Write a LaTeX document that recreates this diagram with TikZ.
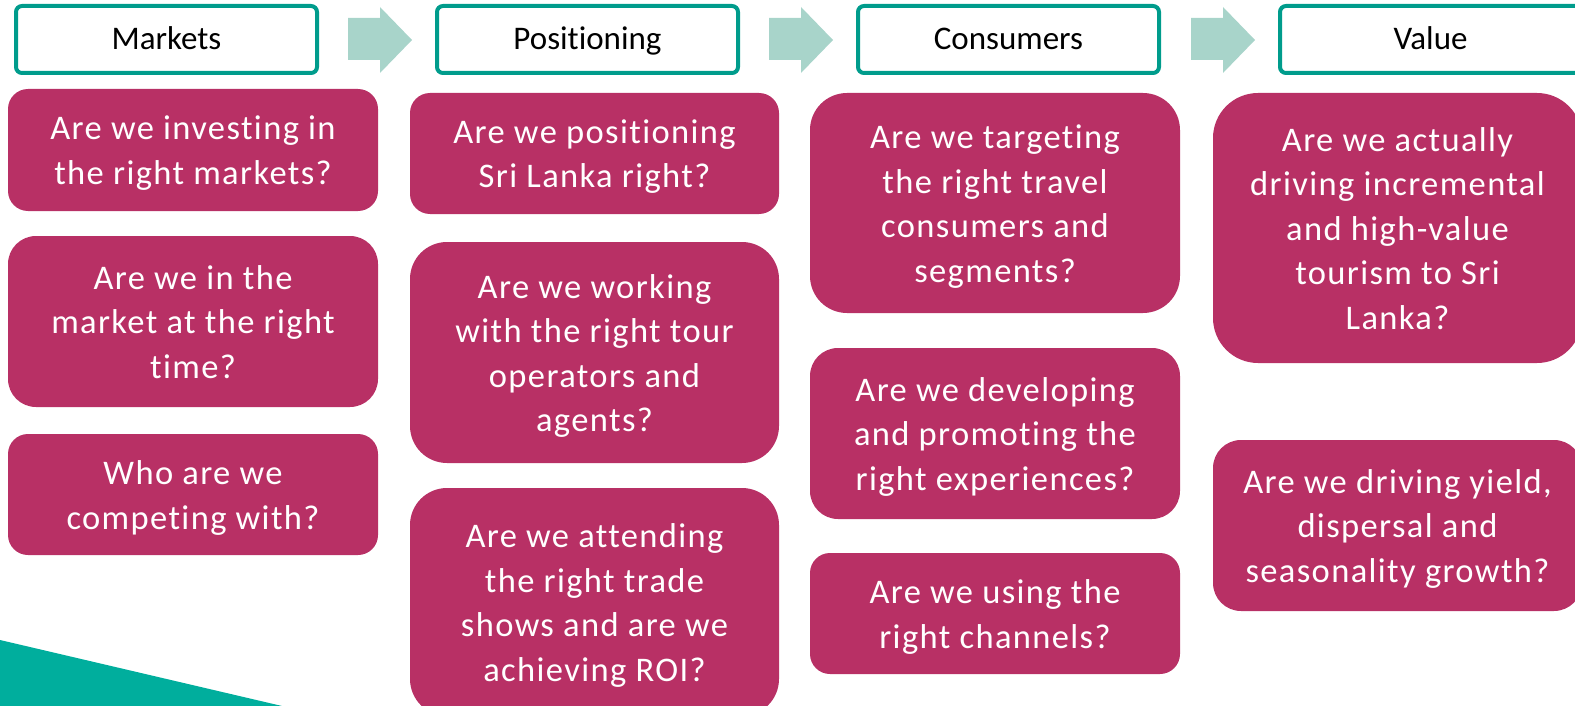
\documentclass[tikz,border=0pt]{standalone}
\usepackage{fontspec}
\setmainfont{Carlito}[Ligatures=NoCommon]
\newfontfamily\qfont{Carlito}[LetterSpace=4,Ligatures=NoCommon]
\usetikzlibrary{calc}
\definecolor{qmag}{HTML}{B83065}
\definecolor{hteal}{HTML}{009C8C}
\definecolor{arrowfill}{HTML}{A8D4CA}
\definecolor{cornerteal}{HTML}{00AE9D}
% fixed first-line height and last-line depth, so every box centres its text alike
\newcommand\qtop{\rule{0pt}{34.5pt}}
\newcommand\qbot{\rule[-10pt]{0pt}{10pt}}
\begin{document}
\begin{tikzpicture}[x=1pt,y=-1pt,
  header/.style={draw=hteal, line width=4pt, rounded corners=6pt, fill=white,
    minimum width=301pt, minimum height=67pt, inner sep=0pt,
    text height=28pt, text depth=7pt,
    font=\fontsize{33}{40}\selectfont},
  qbox/.style={fill=qmag, text=white, align=center, inner sep=0pt,
    font=\qfont\fontsize{34.5}{44.5}\selectfont},
  flow/.style={fill=arrowfill}
]
\useasboundingbox (0,0) rectangle (1575,706);
\clip (0,0) rectangle (1575,706);

% corner wedge
\fill[cornerteal] (0,640) -- (282,706) -- (0,706) -- cycle;

% stage headers
\node[header] (h1) at (166.5,39.5) {Markets};
\node[header] (h2) at (587.5,39.5) {Positioning};
\node[header] (h3) at (1008.5,39.5) {Consumers};
\node[header] (h4) at (1430.5,39.5) {Value};

% block arrows between the headers
\foreach \l in {348,769,1191}{
  \fill[flow] (\l,18) -- (\l+32,18) -- (\l+32,7) -- (\l+64,40)
    -- (\l+32,73) -- (\l+32,60) -- (\l,60) -- cycle;
}

% Markets questions
\node[qbox, rounded corners=20pt, minimum width=370pt, minimum height=122pt] (m1) at (193,150)
  {\qtop Are we investing in\\the right markets?\qbot};
\node[qbox, rounded corners=28pt, minimum width=370pt, minimum height=171pt] (m2) at (193,321.5)
  {\qtop Are we in the\\market at the right\\time?\qbot};
\node[qbox, rounded corners=20pt, minimum width=370pt, minimum height=121pt] (m3) at (193,494.5)
  {\qtop Who are we\\competing with?\qbot};

% Positioning questions
\node[qbox, rounded corners=20pt, minimum width=369pt, minimum height=121pt] (p1) at (594.5,153.5)
  {\qtop Are we positioning\\Sri Lanka right?\qbot};
\node[qbox, rounded corners=37pt, minimum width=369pt, minimum height=221pt] (p2) at (594.5,352.5)
  {\qtop Are we working\\with the right tour\\operators and\\agents?\qbot};
\node[qbox, rounded corners=37pt, minimum width=369pt, minimum height=228pt] (p3) at (594.5,602)
  {\qtop Are we attending\\the right trade\\shows and are we\\achieving ROI?\qbot};

% Consumers questions
\node[qbox, rounded corners=37pt, minimum width=370pt, minimum height=220pt] (c1) at (995,203)
  {\qtop Are we targeting\\the right travel\\consumers and\\segments?\qbot};
\node[qbox, rounded corners=28pt, minimum width=370pt, minimum height=171pt] (c2) at (995,433.5)
  {\qtop Are we developing\\and promoting the\\right experiences?\qbot};
\node[qbox, rounded corners=20pt, minimum width=370pt, minimum height=121pt] (c3) at (995,613.5)
  {\qtop Are we using the\\right channels?\qbot};

% Value questions
\node[qbox, rounded corners=45pt, minimum width=369pt, minimum height=270pt] (v1) at (1397.5,228)
  {\qtop Are we actually\\driving incremental\\and high-value\\tourism to Sri\\Lanka?\qbot};
\node[qbox, rounded corners=28pt, minimum width=369pt, minimum height=171pt] (v2) at (1397.5,525.5)
  {\qtop Are we driving yield,\\dispersal and\\seasonality growth?\qbot};
\end{tikzpicture}
\end{document}
